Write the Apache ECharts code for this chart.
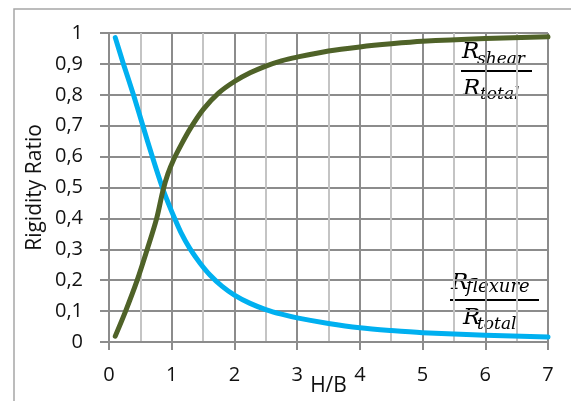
<!DOCTYPE html>
<html>
<head>
<meta charset="utf-8">
<script src="https://cdn.jsdelivr.net/npm/echarts@6/dist/echarts.min.js"></script>
<style>html,body{margin:0;padding:0;background:#fff}#c{width:571px;height:401px}</style>
</head>
<body>
<div id="c"></div>
<script>
// H/B values and rigidity ratios
const flexX = [0.1, 0.23, 0.39, 0.54, 0.69, 0.85, 0.95, 1.04, 1.15, 1.29, 1.45, 1.61, 1.8, 2.0, 2.25, 2.5, 2.75, 3.0, 3.5, 4.0, 4.5, 5.0, 6.0, 7.0];
const flexY = [0.985, 0.9, 0.8, 0.7, 0.6, 0.5, 0.447, 0.403, 0.353, 0.302, 0.256, 0.217, 0.181, 0.152, 0.125, 0.105, 0.09, 0.078, 0.06, 0.046, 0.037, 0.03, 0.022, 0.016];
const shearX = [0.1, 0.265, 0.45, 0.61, 0.76, 0.86, 0.94, 1.03, 1.15, 1.3, 1.5, 1.75, 2.0, 2.25, 2.5, 2.75, 3.0, 3.5, 4.0, 4.5, 5.0, 6.0, 7.0];
const shearY = [0.019, 0.1, 0.2, 0.3, 0.4, 0.49, 0.545, 0.59, 0.638, 0.692, 0.752, 0.806, 0.843, 0.871, 0.893, 0.91, 0.922, 0.942, 0.955, 0.965, 0.973, 0.982, 0.988];
const xTickLabels = ['0', '1', '2', '3', '4', '5', '6', '7'];
const yTickLabels = ['0', '0,1', '0,2', '0,3', '0,4', '0,5', '0,6', '0,7', '0,8', '0,9', '1'];

const flexData = flexX.map((x, i) => [x, flexY[i]]);
const shearData = shearX.map((x, i) => [x, shearY[i]]);

const gridColor = '#8c8c8c';
const txt = '#111';
const sans = '"Open Sans"';
const serif = '"DejaVu Serif"';
const chart = echarts.init(document.getElementById('c'));
chart.setOption({
  animation: false,
  grid: { left: 109, right: 23, top: 33, bottom: 59, outerBoundsMode: 'none', containLabel: false },
  xAxis: {
    type: 'value', min: 0, max: 7, interval: 1,
    name: 'H/B', nameLocation: 'middle', nameGap: 34, nameMoveOverlap: false,
    nameTextStyle: { fontFamily: sans, fontSize: 21, color: txt },
    axisLine: { show: true, lineStyle: { color: gridColor, width: 2 } },
    axisTick: { show: true, length: 8, lineStyle: { color: gridColor, width: 2 } },
    axisLabel: { margin: 23, fontFamily: sans, fontSize: 20, color: txt,
      formatter: v => xTickLabels[Math.round(v)] },
    splitLine: { show: true, lineStyle: { color: gridColor, width: 2 } },
    minorTick: { show: false, splitNumber: 2 },
    minorSplitLine: { show: true, lineStyle: { color: '#c4c4c4', width: 2 } }
  },
  yAxis: {
    type: 'value', min: 0, max: 1, interval: 0.1,
    name: 'Rigidity Ratio', nameLocation: 'middle', nameGap: 63, nameMoveOverlap: false,
    nameTextStyle: { fontFamily: sans, fontSize: 21, color: txt },
    axisLine: { show: true, lineStyle: { color: gridColor, width: 2 } },
    axisTick: { show: true, length: 9, lineStyle: { color: gridColor, width: 2 } },
    axisLabel: { margin: 26, fontFamily: sans, fontSize: 20, color: txt,
      formatter: v => yTickLabels[Math.round(v * 10)] },
    splitLine: { show: true, lineStyle: { color: gridColor, width: 2 } }
  },
  series: [
    { name: 'flexure', type: 'line', data: flexData, showSymbol: false, smooth: 0.3,
      lineStyle: { color: '#00B0F0', width: 5, cap: 'round', join: 'round' } },
    { name: 'shear', type: 'line', data: shearData, showSymbol: false, smooth: 0.3,
      lineStyle: { color: '#4F6228', width: 5, cap: 'round', join: 'round' } }
  ],
  graphic: [
    { type: 'rect', shape: { x: 14, y: 9, width: 700, height: 500 }, silent: true,
      style: { fill: 'none', stroke: '#a6a6a6', lineWidth: 1.5 }, z: -10 },
    // shear label
    { type: 'text', x: 462, y: 52, style: { text: 'R', fontFamily: serif, fontStyle: 'italic', fontSize: 23, fill: '#000', verticalAlign: 'middle' } },
    { type: 'text', x: 477, y: 60, style: { text: 'shear', fontFamily: serif, fontStyle: 'italic', fontSize: 17, fill: '#000', verticalAlign: 'middle' } },
    { type: 'line', shape: { x1: 461, y1: 71, x2: 532, y2: 71 }, style: { stroke: '#000', lineWidth: 2 } },
    { type: 'text', x: 463, y: 89, style: { text: 'R', fontFamily: serif, fontStyle: 'italic', fontSize: 23, fill: '#000', verticalAlign: 'middle' } },
    { type: 'text', x: 480, y: 95, style: { text: 'total', fontFamily: serif, fontStyle: 'italic', fontSize: 17, fill: '#000', verticalAlign: 'middle' } },
    // flexure label
    { type: 'text', x: 451, y: 283, style: { text: 'R', fontFamily: serif, fontStyle: 'italic', fontSize: 23, fill: '#000', verticalAlign: 'middle' } },
    { type: 'text', x: 466, y: 287, style: { text: 'flexure', fontFamily: serif, fontStyle: 'italic', fontSize: 18, fill: '#000', verticalAlign: 'middle' } },
    { type: 'line', shape: { x1: 450, y1: 300, x2: 539, y2: 300 }, style: { stroke: '#000', lineWidth: 2 } },
    { type: 'text', x: 463, y: 318, style: { text: 'R', fontFamily: serif, fontStyle: 'italic', fontSize: 23, fill: '#000', verticalAlign: 'middle' } },
    { type: 'text', x: 477, y: 325, style: { text: 'total', fontFamily: serif, fontStyle: 'italic', fontSize: 17, fill: '#000', verticalAlign: 'middle' } }
  ]
});
</script>
</body>
</html>
